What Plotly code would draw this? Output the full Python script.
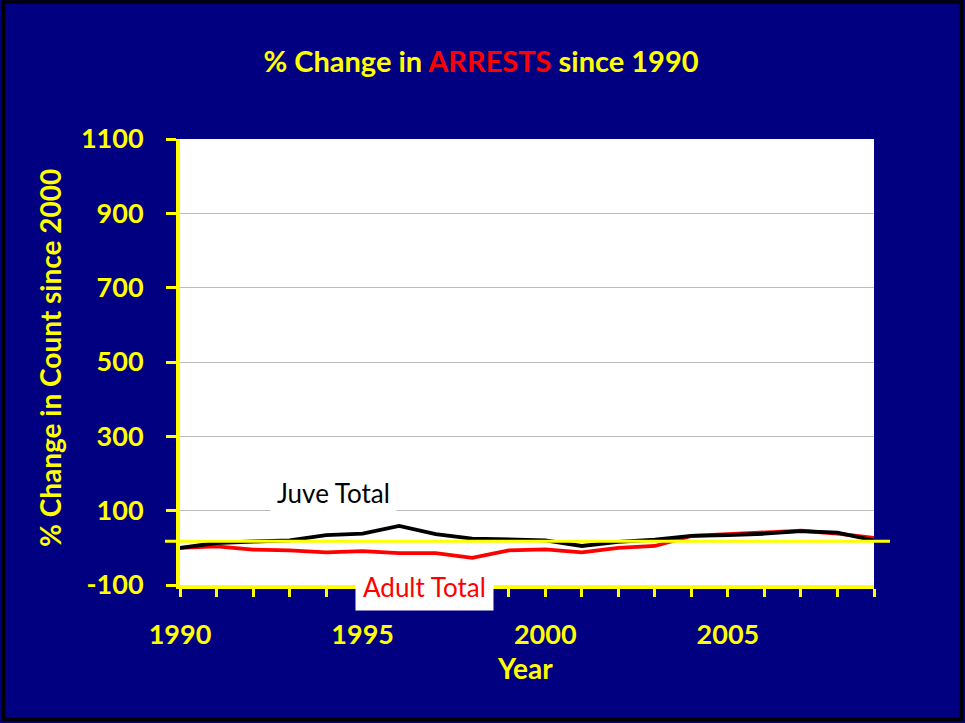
import plotly.graph_objects as go

years = list(range(1990, 2010))
juve_total = [0, 13, 17, 20, 34, 38, 59, 37, 25, 22, 20, 5, 16, 22, 32, 34, 38, 45, 41, 20]
adult_total = [0, 4, -5, -7, -12, -9, -14, -14, -27, -7, -4, -12, 0, 5, 32, 37, 43, 46, 38, 27]
x_tick_labels = [str(y) if y % 5 == 0 else "" for y in years]
y_tick_vals = [-100, 100, 300, 500, 700, 900, 1100]
y_tick_labels = ["-100", "100", "300", "500", "700", "900", "1100"]
ref_level = 18

NAVY = "#000080"
YEL = "#FFFF00"
FONT = "Lato"

L, R, T, B = 180, 91, 139, 138
W, H = 965, 723
pw, ph = W - L - R, H - T - B

fig = go.Figure()
fig.add_trace(go.Scatter(x=years, y=adult_total, mode="lines", name="Adult Total",
                         line=dict(color="#FF0000", width=3.8), showlegend=False))
fig.add_trace(go.Scatter(x=years, y=juve_total, mode="lines", name="Juve Total",
                         line=dict(color="#000000", width=3.8), showlegend=False))

fig.update_layout(
    width=W, height=H,
    margin=dict(l=L, r=R, t=T, b=B),
    paper_bgcolor=NAVY, plot_bgcolor="white",
    font=dict(family=FONT, color=YEL),
    title=dict(text="<b>% Change in <span style='color:#FF0000'>ARRESTS</span> since 1990</b>",
               x=(481) / W, xanchor="center", y=1 - 62 / H, yanchor="middle",
               font=dict(family=FONT, size=29, color=YEL)),
    xaxis=dict(range=[1990, 2009], tickvals=years, ticktext=x_tick_labels,
               ticks="outside", ticklen=8, tickwidth=3, tickcolor=YEL,
               showline=True, linecolor=YEL, linewidth=4, showgrid=False, zeroline=False,
               tickfont=dict(family=FONT, size=27, color=YEL, weight="bold"),
               ticklabelstandoff=15),
    yaxis=dict(range=[-100, 1100], tickvals=y_tick_vals, ticktext=y_tick_labels,
               ticks="outside", ticklen=10, tickwidth=3, tickcolor=YEL,
               showline=True, linecolor=YEL, linewidth=4,
               showgrid=True, gridcolor="#BBBBBB", gridwidth=1, zeroline=False,
               tickfont=dict(family=FONT, size=27, color=YEL, weight="bold"),
               ticklabelstandoff=17),
)

fig.add_shape(type="line", xref="paper", yref="y", x0=-15 / pw, x1=1 + 16 / pw,
              y0=ref_level, y1=ref_level, line=dict(color=YEL, width=3), layer="above")

fig.add_shape(type="rect", xref="paper", yref="paper",
              x0=-(L - 3.5) / pw, x1=1 + (R - 3.5) / pw, y0=-(B - 3.5) / ph, y1=1 + (T - 2) / ph,
              line=dict(color="black", width=3.5), layer="above")

fig.add_annotation(x=1994.2, y=148, text="Juve Total", showarrow=False,
                   font=dict(family=FONT, size=26, color="black"),
                   bgcolor="white", borderpad=6)
fig.add_annotation(x=1996.7, xref="x", yref="paper", y=-2 / ph, yanchor="middle",
                   text="Adult Total", showarrow=False,
                   font=dict(family=FONT, size=26, color="#FF0000"),
                   bgcolor="white", borderpad=7)

fig.add_annotation(xref="paper", yref="paper", x=(525 - L) / pw, y=-(668 - (T + ph)) / ph,
                   text="<b>Year</b>", showarrow=False, yanchor="middle",
                   font=dict(family=FONT, size=28, color=YEL))
fig.add_annotation(xref="paper", yref="paper", x=(50 - L) / pw, y=(T + ph - 358) / ph,
                   text="<b>% Change in Count since 2000</b>", showarrow=False, textangle=-90,
                   xanchor="center", yanchor="middle",
                   font=dict(family=FONT, size=28, color=YEL))

fig.write_html("out.html", config={"displayModeBar": False},
               post_script="document.body.style.margin='0';document.body.style.overflow='hidden';")
